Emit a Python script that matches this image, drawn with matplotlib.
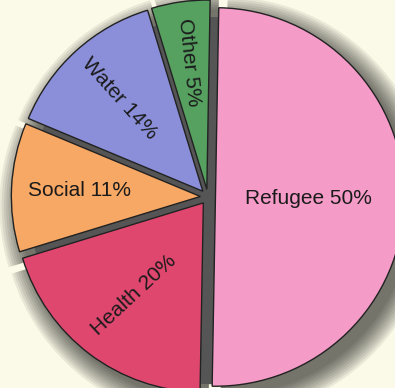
import numpy as np
import matplotlib
matplotlib.use('Agg')
import matplotlib.pyplot as plt
from matplotlib.patches import Wedge, Circle

# Dados do gráfico (sentido horário a partir do topo)
labels = ['Refugee', 'Health', 'Social', 'Water', 'Other']
shares = [50, 20, 11, 14, 5]

colors = ['#F59BC8', '#E0476F', '#F7A864', '#8B8FDA', '#56A060']
label_radius = [0.49, 0.61, 0.64, 0.66, 0.68]
label_rotation = [0, 43, 0, -48, -84]

plt.rcParams['font.family'] = ['Liberation Sans', 'DejaVu Sans']

fig = plt.figure(figsize=(3.95, 3.88), dpi=100, facecolor='#FBF9E7')
ax = fig.add_axes([0, 0, 1, 1])
ax.set_facecolor('#FBF9E7')

explode = [0.04] * len(shares)
start = 89

# Sombra difusa deslocada para baixo/direita
total = sum(shares)
theta = start
for share, ex in zip(shares, explode):
    t2 = theta - 360 * share / total
    mid = np.deg2rad((theta + t2) / 2)
    cx, cy = ex * np.cos(mid), ex * np.sin(mid)
    for k in range(10):
        w = Wedge((cx + 0.045, cy - 0.05), 1.0 + 0.012 * k, t2, theta,
                  facecolor='black', edgecolor='none', alpha=0.07, zorder=1)
        ax.add_patch(w)
    theta = t2
# sombra escura nas fendas entre as fatias
ax.add_patch(Circle((0.02, -0.02), 0.97, facecolor='#555555',
                    edgecolor='none', zorder=2))

wedges, _ = ax.pie(shares, colors=colors, explode=explode, startangle=start,
                   counterclock=False, radius=1.0,
                   wedgeprops=dict(edgecolor='#222222', linewidth=1.0))
for w in wedges:
    w.set_zorder(3)

# Rótulos dentro das fatias
for w, name, share, r, rot in zip(wedges, labels, shares, label_radius,
                                  label_rotation):
    mid = np.deg2rad((w.theta1 + w.theta2) / 2)
    cx, cy = w.center
    x = cx + r * np.cos(mid)
    y = cy + r * np.sin(mid)
    ax.text(x, y, f'{name} {share}%', rotation=rot, rotation_mode='anchor',
            ha='center', va='center', fontsize=15, color='#1a1a1a', zorder=4)

ax.set_xlim(-1.10, 0.99)
ax.set_ylim(-1.01, 1.04)
ax.set_aspect('auto')
ax.axis('off')

fig.savefig('out.png', dpi=100, facecolor=fig.get_facecolor())
